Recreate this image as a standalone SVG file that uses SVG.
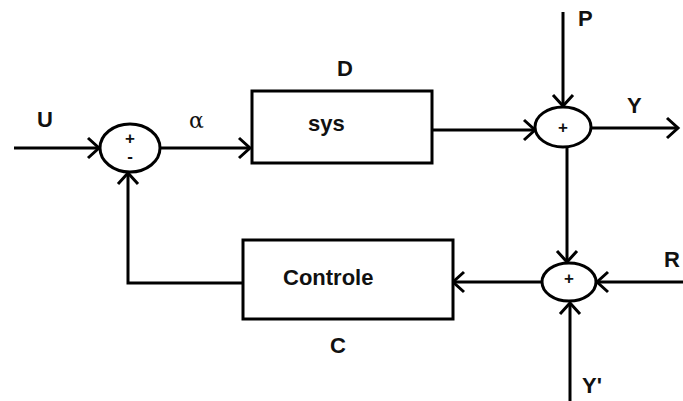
<svg xmlns="http://www.w3.org/2000/svg" width="683" height="401" viewBox="0 0 683 401">
<defs>
<style>
.ln{fill:none;stroke:#000;stroke-width:3}
.nd{fill:#fff;stroke:#000;stroke-width:3}
.t{font-family:"Liberation Sans",Arial,sans-serif;font-weight:bold;fill:#111;font-size:22px}
.s{font-family:"Liberation Sans",Arial,sans-serif;font-weight:bold;fill:#111;font-size:17px;text-anchor:middle}
</style>
<marker id="ah" markerUnits="userSpaceOnUse" markerWidth="30" markerHeight="30" viewBox="-15 -15 30 30" refX="0" refY="0" orient="auto" overflow="visible">
<path d="M-11,-10 L0,0 L-11,10" fill="none" stroke="#000" stroke-width="3"/>
</marker>
</defs>
<rect width="683" height="401" fill="#fff"/>
<g id="connectors">
<line class="ln" x1="14" y1="148" x2="99" y2="148" marker-end="url(#ah)"/>
<line class="ln" x1="160" y1="148" x2="250" y2="148" marker-end="url(#ah)"/>
<line class="ln" x1="432" y1="130" x2="535" y2="130" marker-end="url(#ah)"/>
<line class="ln" x1="563" y1="12" x2="563" y2="106" marker-end="url(#ah)"/>
<line class="ln" x1="591" y1="128" x2="678" y2="128" marker-end="url(#ah)"/>
<line class="ln" x1="567" y1="147" x2="567" y2="262" marker-end="url(#ah)"/>
<line class="ln" x1="683" y1="282" x2="597" y2="282" marker-end="url(#ah)"/>
<line class="ln" x1="570" y1="401" x2="570" y2="303" marker-end="url(#ah)"/>
<line class="ln" x1="542" y1="282" x2="453" y2="282" marker-end="url(#ah)"/>
<polyline class="ln" points="243,283 128,283 128,173" marker-end="url(#ah)"/>
</g>
<g id="sum1">
<ellipse class="nd" cx="130" cy="148" rx="30" ry="24"/>
<text class="s" x="130" y="144">+</text>
<text class="s" x="130" y="162">-</text>
</g>
<g id="sys">
<rect class="nd" x="252" y="91" width="180" height="72"/>
<text class="t" x="308" y="131">sys</text>
<text class="t" x="337" y="76">D</text>
</g>
<g id="sum2">
<ellipse class="nd" cx="563" cy="127" rx="28" ry="20"/>
<text class="s" x="563" y="133">+</text>
</g>
<g id="sum3">
<ellipse class="nd" cx="569" cy="282" rx="27" ry="19"/>
<text class="s" x="569" y="284">+</text>
</g>
<g id="controle">
<rect class="nd" x="243" y="240" width="210" height="79"/>
<text class="t" x="283" y="285">Controle</text>
<text class="t" x="330" y="353">C</text>
</g>
<g id="labels">
<text class="t" x="37" y="127">U</text>
<text x="189" y="128" font-family="'DejaVu Serif',serif" font-size="22" fill="#111">α</text>
<text class="t" x="578" y="26">P</text>
<text class="t" x="627" y="113">Y</text>
<text class="t" x="664" y="267">R</text>
<text class="t" x="582" y="393">Y'</text>
</g>
</svg>
